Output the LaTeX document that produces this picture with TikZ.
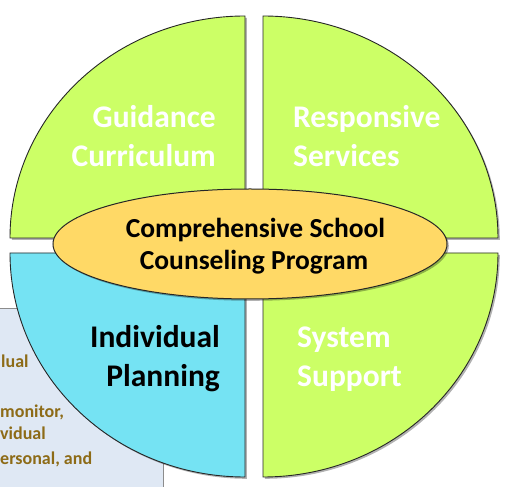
\documentclass[tikz,border=0pt]{standalone}
\usepackage{fontspec}
\setmainfont{Carlito}
\usetikzlibrary{shapes.geometric}
\definecolor{qgreen}{HTML}{CCFF66}
\definecolor{qblue}{HTML}{75E3F3}
\definecolor{ellfill}{HTML}{FFD966}
\definecolor{boxfill}{HTML}{DFE8F4}
\definecolor{txtolive}{HTML}{8D6B17}
\begin{document}
\begin{tikzpicture}[x=1pt,y=1pt,
  quad/.style={draw=black!85,line width=0.9pt,line join=round},
  shadowfill/.style={fill=black,opacity=0.3},
  lab/.style={inner sep=0pt,font=\fontsize{31.5}{38}\selectfont\bfseries},
  ctext/.style={inner sep=0pt,anchor=base,font=\fontsize{27.5}{32}\selectfont\bfseries,text=black},
  frag/.style={inner sep=0pt,anchor=base west,font=\fontsize{18}{22}\selectfont\bfseries,text=txtolive},
  hub/.style={ellipse,draw=black!85,line width=1pt,fill=ellfill,minimum width=394pt,minimum height=110pt,inner sep=0pt}]
\useasboundingbox (0,0) rectangle (506,487);
\clip (0,0) rectangle (506,487);
\fill[white] (0,0) rectangle (506,487);
% partially hidden text box
\draw[draw=black!45,line width=0.8pt,fill=boxfill] (-5,179) rectangle (163,-10);
\node[frag] (f1) at (1,119) {lual};
\node[frag] (f2) at (0,69) {monitor,};
\node[frag] (f3) at (0,47) {vidual};
\node[frag] (f4) at (0,22) {ersonal, and};
% shadows
\begin{scope}[shift={(1.8,-1.8)}]
\fill[shadowfill] (245,249) -- (10,249) arc[start angle=180,end angle=90,x radius=235,y radius=222] -- cycle;
\fill[shadowfill] (263,249) -- (263,471) arc[start angle=90,end angle=0,x radius=235,y radius=222] -- cycle;
\fill[shadowfill] (263,234) -- (498,234) arc[start angle=0,end angle=-90,x radius=235,y radius=224] -- cycle;
\fill[shadowfill] (245,234) -- (245,10) arc[start angle=270,end angle=180,x radius=235,y radius=224] -- cycle;
\end{scope}
% quadrants
\draw[quad,fill=qgreen] (245,249) -- (10,249) arc[start angle=180,end angle=90,x radius=235,y radius=222] -- cycle;
\draw[quad,fill=qgreen] (263,249) -- (263,471) arc[start angle=90,end angle=0,x radius=235,y radius=222] -- cycle;
\draw[quad,fill=qgreen] (263,234) -- (498,234) arc[start angle=0,end angle=-90,x radius=235,y radius=224] -- cycle;
\draw[quad,fill=qblue] (245,234) -- (245,10) arc[start angle=270,end angle=180,x radius=235,y radius=224] -- cycle;
% labels
\node[lab,text=white,anchor=base east] (gc1) at (216,359) {Guidance};
\node[lab,text=white,anchor=base east] (gc2) at (216,320) {Curriculum};
\node[lab,text=white,anchor=base west] (rs1) at (293,359) {Responsive};
\node[lab,text=white,anchor=base west] (rs2) at (293,320) {Services};
\node[lab,text=white,anchor=base west] (ss1) at (297,139) {System};
\node[lab,text=white,anchor=base west] (ss2) at (297,100) {Support};
\node[lab,text=black,anchor=base east] (ip1) at (220,139) {Individual};
\node[lab,text=black,anchor=base east] (ip2) at (220,100) {Planning};
% hub ellipse
\fill[shadowfill] (251.8,241.2) ellipse[x radius=197,y radius=55];
\node[hub] (hub) at (250,243) {};
\node[ctext] (c1) at (255.5,249) {Comprehensive School};
\node[ctext] (c2) at (254,217) {Counseling Program};
\end{tikzpicture}
\end{document}
